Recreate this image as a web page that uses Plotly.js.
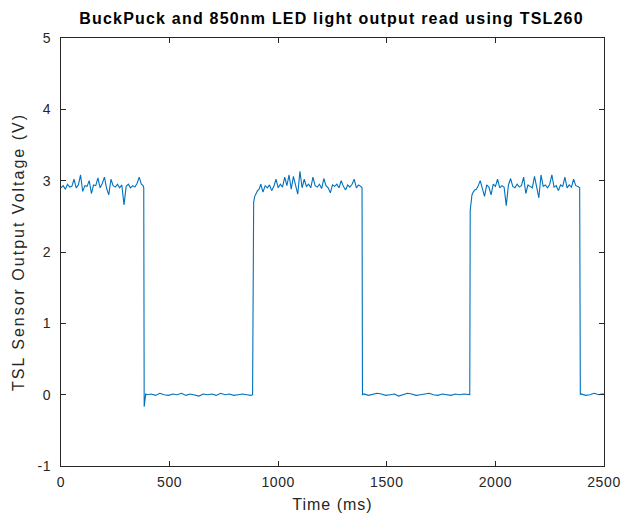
<!DOCTYPE html>
<html><head><meta charset="utf-8">
<script src="https://cdn.plot.ly/plotly-3.0.1.min.js"></script>
<style>
html,body{margin:0;padding:0;background:#fff}
#chart .gtitle{letter-spacing:1.2px}
#chart .ytitle{letter-spacing:2px}
#chart .xtitle{letter-spacing:1px}
#chart .xtick text,#chart .ytick text{letter-spacing:0.6px}
</style>
</head><body><div id="chart" style="width:622px;height:517px"></div>
<script>
// Time stamps (ms) and sensor output (V)
const timeHighA = [0,10,20,30,40,50,60,70,80,90,100,110,120,130,140,150,160,170,180,190,200,210,220,230,240,250,260,270,280,290,300,310,320,330,340,350,360,370,378];
const voltHighA = [2.90,2.93,2.88,2.95,2.91,2.92,3.02,2.90,2.94,3.08,2.85,2.93,2.92,3.00,2.82,2.94,2.93,3.04,2.90,2.96,3.05,2.89,2.80,3.02,2.93,2.91,2.95,2.90,2.94,2.66,2.92,2.95,2.90,2.93,2.91,2.96,3.05,2.95,2.93];
const timeFall1 = [381,383,386,390];
const voltFall1 = [2.90,-0.17,-0.02,0.01];
const timeLowB = [395,415,435,455,475,495,515,535,555,575,595,615,635,655,675,695,715,735,755,775,795,815,835,855,875];
const voltLowB = [0.00,0.01,-0.01,0.02,0.00,-0.01,0.01,0.00,0.02,-0.01,0.01,0.00,-0.02,0.01,0.00,0.01,-0.01,0.02,0.00,0.01,-0.01,0.00,0.01,0.00,-0.01];
const timeRise1 = [882,884,887,892,898,905,912];
const voltRise1 = [0.00,2.55,2.70,2.78,2.83,2.86,2.88];
const timeHighC = [920,930,940,950,960,970,980,990,1000,1010,1020,1030,1040,1050,1060,1070,1080,1090,1100,1110,1120,1130,1140,1150,1160,1170,1180,1190,1200,1210,1220,1230,1240,1250,1260,1270,1280,1290,1300,1310,1320,1330,1340,1350,1360,1370,1380];
const voltHighC = [2.95,2.84,2.93,2.90,2.94,2.86,2.92,3.02,2.90,2.95,2.91,3.05,2.93,3.08,2.88,3.06,2.92,2.81,3.13,2.90,3.02,2.92,2.95,2.90,3.05,2.93,2.91,2.95,2.89,3.03,2.93,2.90,2.83,2.94,2.92,2.95,2.90,3.00,2.92,2.87,2.94,2.91,2.95,3.02,2.90,2.94,2.92];
const timeFall2 = [1386,1388];
const voltFall2 = [2.90,0.00];
const timeLowD = [1395,1415,1435,1455,1475,1495,1515,1535,1555,1575,1595,1615,1635,1655,1675,1695,1715,1735,1755,1775,1795,1815,1835,1855,1875];
const voltLowD = [0.01,-0.01,0.00,0.02,0.01,-0.01,0.00,0.01,-0.02,0.00,0.02,0.01,-0.01,0.00,0.01,0.02,0.00,-0.01,0.01,0.00,-0.01,0.01,0.00,0.01,0.00];
const timeRise2 = [1882,1884,1887,1892,1898,1905,1912];
const voltRise2 = [0.00,2.58,2.72,2.80,2.84,2.87,2.88];
const timeHighE = [1920,1930,1940,1950,1960,1970,1980,1990,2000,2010,2020,2030,2040,2050,2060,2070,2080,2090,2100,2110,2120,2130,2140,2150,2160,2170,2180,2190,2200,2210,2220,2230,2240,2250,2260,2270,2280,2290,2300,2310,2320,2330,2340,2350,2360,2370,2380];
const voltHighE = [2.92,3.00,2.90,2.78,2.94,2.91,2.80,2.95,2.92,3.02,2.90,2.93,2.91,2.65,2.94,3.03,2.92,2.90,2.95,2.91,2.93,3.05,2.82,2.94,2.92,2.90,3.06,2.89,2.76,3.08,2.92,2.94,2.90,2.95,3.08,2.91,2.93,2.86,2.94,2.92,3.05,2.90,2.94,2.91,3.02,2.93,2.92];
const timeFall3 = [2388,2391];
const voltFall3 = [2.90,0.00];
const timeLowF = [2395,2415,2435,2455,2475,2495,2500];
const voltLowF = [0.01,-0.01,0.00,0.02,0.00,0.01,0.00];

const xTicks = [0,500,1000,1500,2000,2500];
const yTicks = [-1,0,1,2,3,4,5];

const timeMs = [].concat(timeHighA,timeFall1,timeLowB,timeRise1,timeHighC,timeFall2,timeLowD,timeRise2,timeHighE,timeFall3,timeLowF);
const voltage = [].concat(voltHighA,voltFall1,voltLowB,voltRise1,voltHighC,voltFall2,voltLowD,voltRise2,voltHighE,voltFall3,voltLowF);

const FONT = 'Liberation Sans, Arial, sans-serif';
const axisCommon = {
  showline:true, linecolor:'#262626', linewidth:1, mirror:'ticks',
  ticks:'inside', ticklen:5, tickcolor:'#262626', tickwidth:1,
  showgrid:false, zeroline:false,
  tickfont:{family:FONT, size:14, color:'#262626'}
};

Plotly.newPlot('chart', [{
  x: timeMs, y: voltage, type:'scatter', mode:'lines',
  line:{color:'#0072BD', width:1.1}, hoverinfo:'none'
}], {
  width:622, height:517,
  margin:{l:61, r:18, t:38, b:51},
  paper_bgcolor:'#ffffff', plot_bgcolor:'#ffffff',
  showlegend:false,
  title:{text:'<b>BuckPuck and 850nm LED light output read using TSL260</b>',
    font:{family:FONT, size:16, color:'#000'},
    x:0.533, xanchor:'center', y:0.965, yanchor:'middle'},
  xaxis:Object.assign({}, axisCommon, {
    range:[0,2500], tickvals:xTicks, ticktext:xTicks.map(String),
    ticklabelstandoff:3,
    title:{text:'Time (ms)', standoff:10, font:{family:FONT, size:16, color:'#262626'}}
  }),
  yaxis:Object.assign({}, axisCommon, {
    range:[-1,5], tickvals:yTicks, ticktext:yTicks.map(String),
    ticklabelstandoff:6,
    title:{text:'TSL Sensor Output Voltage (V)', standoff:10, font:{family:FONT, size:16, color:'#262626'}}
  })
}, {staticPlot:true, displayModeBar:false});
</script></body></html>
